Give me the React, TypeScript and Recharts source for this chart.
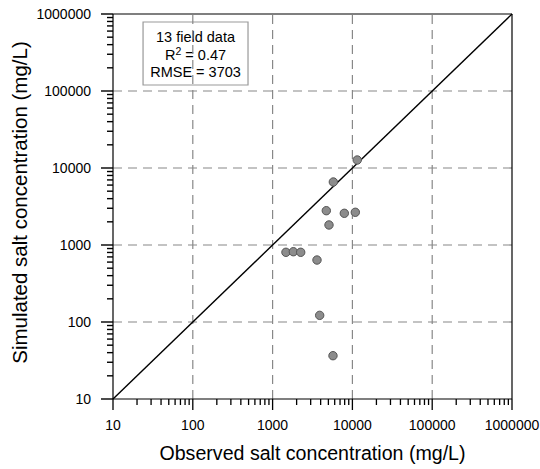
import React from 'react';
import {
  ScatterChart,
  Scatter,
  XAxis,
  YAxis,
  ReferenceLine,
  ReferenceArea,
} from 'recharts';

const observed = [11500, 5770, 4710, 7920, 10880, 5090, 1470, 1820, 2250, 3600, 3890, 5710];
const simulated = [12700, 6580, 2790, 2580, 2660, 1820, 804, 818, 804, 638, 122, 36.5];

const majorTicks = [10, 100, 1000, 10000, 100000, 1000000];
const gridTicks = [100, 1000, 10000, 100000];
const tickLabels = ['10', '100', '1000', '10000', '100000', '1000000'];

const minorTicks: number[] = [];
for (let d = 10; d < 1000000; d *= 10) {
  for (let m = 2; m <= 9; m++) minorTicks.push(d * m);
}

const infoLines = ['13 field data', 'R2 = 0.47', 'RMSE = 3703'];
const xTitle = 'Observed salt concentration (mg/L)';
const yTitle = 'Simulated salt concentration (mg/L)';

const data = observed.map((x, i) => ({ x, y: simulated[i] }));

const FONT = 'Arial, "Liberation Sans", Helvetica, sans-serif';

const makeXTick = (label: string | null) => (p: any) => {
  const x = Number(p.x1);
  const yb = Math.max(Number(p.y1), Number(p.y2));
  const len = label !== null ? 11 : 6;
  return (
    <g>
      <rect x={x - 0.65} y={yb} width={1.3} height={len} fill="#000" stroke="none" />
      {label !== null && (
        <text x={x} y={yb + 31} textAnchor="middle" fontSize={14} fontFamily={FONT} fill="#000">
          {label}
        </text>
      )}
    </g>
  );
};

const makeYTick = (label: string | null) => (p: any) => {
  const xl = Math.min(Number(p.x1), Number(p.x2));
  const y = Number(p.y1);
  const len = label !== null ? 12 : 6;
  return (
    <g>
      <rect x={xl - len} y={y - 0.7} width={len} height={1.4} fill="#000" stroke="none" />
      {label !== null && (
        <text x={xl - 22} y={y} dy="0.36em" textAnchor="end" fontSize={14} fontFamily={FONT} fill="#000">
          {label}
        </text>
      )}
    </g>
  );
};

const InfoLabel = (props: any) => {
  const vb = props.viewBox || {};
  const cx = vb.x + vb.width / 2;
  const top = vb.y;
  return (
    <g fontFamily={FONT} fontSize={14.5} fill="#000">
      <text x={cx} y={top + 20} textAnchor="middle">{infoLines[0]}</text>
      <text x={cx} y={top + 38} textAnchor="middle">
        <tspan>R</tspan>
        <tspan dy={-5} fontSize={10.5}>2</tspan>
        <tspan dy={5}>{infoLines[1].slice(2)}</tspan>
      </text>
      <text x={cx} y={top + 55} textAnchor="middle">{infoLines[2]}</text>
    </g>
  );
};

const XTitle = (props: any) => {
  const vb = props.viewBox || {};
  return (
    <text x={vb.x + vb.width / 2} y={460} textAnchor="middle" fontSize={19.6} fontFamily={FONT} fill="#000">
      {xTitle}
    </text>
  );
};

const YTitle = (props: any) => {
  const vb = props.viewBox || {};
  const cy = vb.y + vb.height / 2 - 4;
  const cx = 27;
  return (
    <text
      x={cx}
      y={cy}
      transform={`rotate(-90 ${cx} ${cy})`}
      textAnchor="middle"
      fontSize={20.5}
      fontFamily={FONT}
      fill="#000"
    >
      {yTitle}
    </text>
  );
};

export default function App() {
  return (
    <div style={{ width: 540, height: 469, background: '#fff' }}>
      <style>{`body{margin:0;}`}</style>
      <ScatterChart width={540} height={469} margin={{ top: 14, right: 28, left: 0, bottom: 0 }}>
        <XAxis
          type="number"
          dataKey="x"
          scale="log"
          domain={[10, 1000000]}
          ticks={majorTicks}
          tick={false}
          tickLine={false}
          height={70}
          axisLine={{ stroke: '#000', strokeWidth: 1.2 }}
          allowDataOverflow
          label={<XTitle />}
        />
        <YAxis
          type="number"
          dataKey="y"
          scale="log"
          domain={[10, 1000000]}
          ticks={majorTicks}
          tick={false}
          tickLine={false}
          width={113}
          axisLine={{ stroke: '#000', strokeWidth: 1.2 }}
          allowDataOverflow
          label={<YTitle />}
        />
        {gridTicks.map((t) => (
          <ReferenceLine key={'gx' + t} x={t} stroke="#888" strokeWidth={1.2} strokeDasharray="9 6" />
        ))}
        {gridTicks.map((t) => (
          <ReferenceLine key={'gy' + t} y={t} stroke="#888" strokeWidth={1.2} strokeDasharray="9 6" />
        ))}
        <ReferenceLine x={1000000} stroke="#000" strokeWidth={1.2} />
        <ReferenceLine y={1000000} stroke="#000" strokeWidth={1.2} />
        {majorTicks.map((t, i) => (
          <ReferenceLine key={'mxt' + t} x={t} stroke="none" shape={makeXTick(tickLabels[i])} />
        ))}
        {minorTicks.map((t) => (
          <ReferenceLine key={'nxt' + t} x={t} stroke="none" shape={makeXTick(null)} />
        ))}
        {majorTicks.map((t, i) => (
          <ReferenceLine key={'myt' + t} y={t} stroke="none" shape={makeYTick(tickLabels[i])} />
        ))}
        {minorTicks.map((t) => (
          <ReferenceLine key={'nyt' + t} y={t} stroke="none" shape={makeYTick(null)} />
        ))}
        <ReferenceLine
          segment={[
            { x: 10, y: 10 },
            { x: 1000000, y: 1000000 },
          ]}
          stroke="#000"
          strokeWidth={1.4}
        />
        <ReferenceArea
          x1={23.8}
          x2={492}
          y1={119700}
          y2={787000}
          fill="none"
          fillOpacity={0}
          stroke="#999"
          strokeWidth={1.2}
          label={<InfoLabel />}
        />
        <Scatter
          data={data}
          fill="#8c8c8c"
          stroke="#555"
          strokeWidth={1}
          isAnimationActive={false}
          shape={(p: any) => <circle cx={p.cx} cy={p.cy} r={4.2} fill="#8c8c8c" stroke="#555" strokeWidth={1} />}
        />
      </ScatterChart>
    </div>
  );
}
